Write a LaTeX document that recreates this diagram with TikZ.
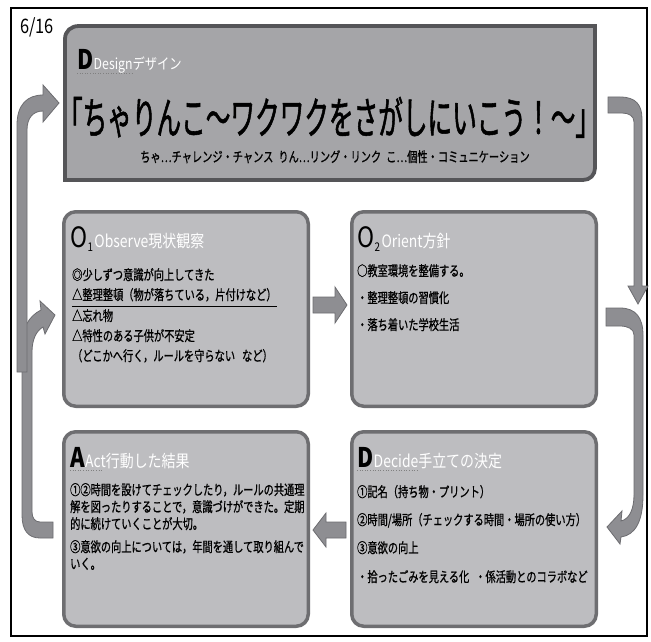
\documentclass[tikz,border=0pt]{standalone}
\usepackage{fontspec}
\setmainfont{Noto Sans CJK JP}
\newfontfamily\jp[FakeStretch=0.73,FakeBold=0.8]{Noto Sans CJK JP}
\newfontfamily\jph[FakeStretch=0.82]{Noto Sans CJK JP}
\newfontfamily\jpt[FakeStretch=0.56,FakeBold=1.2]{Noto Sans CJK JP}
\definecolor{boxfill}{HTML}{BDBDC0}
\definecolor{boxline}{HTML}{6E6E71}
\definecolor{dfill}{HTML}{A5A5A8}
\definecolor{dline}{HTML}{555558}
\definecolor{arrowfill}{HTML}{8E8E92}
\definecolor{arrowline}{HTML}{6C6C70}
\tikzset{
  pbox/.style={draw=boxline, line width=3.5pt, fill=boxfill, rounded corners=12pt,
    minimum width=244.5pt, minimum height=194.5pt, inner sep=0pt},
  body/.style={anchor=base west, inner sep=0pt, text=black,
    font=\jp\fontsize{14}{14}\selectfont},
  head/.style={anchor=base west, inner sep=0pt, text=white,
    font=\jph\fontsize{17}{17}\selectfont},
  big/.style={anchor=base west, inner sep=0pt, text=black,
    font=\jph\bfseries\fontsize{27}{27}\selectfont},
  bigo/.style={anchor=base west, inner sep=0pt, text=black,
    font=\jph\fontsize{28}{28}\selectfont},
  blockarrow/.style={fill=arrowfill, draw=arrowline, line width=0.8pt},
  squiggle/.style={draw=gray, line width=0.6pt, dotted}
}
\begin{document}
\begin{tikzpicture}[x=1pt,y=-1pt]
\useasboundingbox (0,0) rectangle (651,642);
\fill[white] (0,0) rectangle (651,642);
% outer frame
\draw[black, line width=1.5pt] (11,8) rectangle (647,636);
\node[anchor=base west, inner sep=0pt, font=\jph\fontsize{20}{20}\selectfont] (page) at (20,34) {6/16};

% design box
\draw[draw=dline, fill=dfill, line width=3.8pt]
  (65,180) -- (65,39) .. controls (65,31) and (71,26) .. (79,26) -- (595,26)
  -- (595,168) .. controls (595,175) and (590,180) .. (583,180) -- cycle;
\node[big] (dD) at (77,70) {D};
\node[head, anchor=base west, font=\jph\fontsize{15}{15}\selectfont] (dDesign) at (dD.base east) {Designデザイン};
\draw[squiggle] ([yshift=-3pt]dD.base west) -- ([yshift=-3pt,xshift=-50pt]dDesign.base east);
\node[anchor=base, inner sep=0pt, text=black, font=\jpt\fontsize{44}{44}\selectfont] (title) at (329,134)
  {「ちゃりんこ～ワクワクをさがしにいこう！～」};
\node[anchor=base, inner sep=0pt, text=black, font=\jp\fontsize{14}{14}\selectfont] (sub) at (335,162)
  {ちゃ…チャレンジ・チャンス\hspace{5pt}りん…リング・リンク\hspace{5pt}こ…個性・コミュニケーション};

% four boxes
\node[pbox] (o1) at (186,309) {};
\node[pbox] (o2) at (474,309) {};
\node[pbox] (a)  at (186,529) {};
\node[pbox] (d)  at (474,529) {};

% O1 content
\node[bigo] (o1O) at (70,247) {O};
\node[anchor=base west, inner sep=0pt, text=black, font=\jph\fontsize{12}{12}\selectfont] (o1n) at ([yshift=-4pt]o1O.base east) {1};
\node[head] (o1h) at ([xshift=1pt]o1O.base east -| o1n.east) {Observe現状観察};
\node[body] (o1l1) at (72,280) {◎少しずつ意識が向上してきた};
\node[body] (o1l2) at (72,300) {△整理整頓（物が落ちている，片付けなど）};
\draw[black, line width=0.8pt] ([yshift=-6pt]o1l2.base west) -- ([yshift=-6pt]o1l2.base east);
\node[body] (o1l3) at (72,321) {△忘れ物};
\node[body] (o1l4) at (72,341) {△特性のある子供が不安定};
\node[body] (o1l5) at (72,361) {（どこかへ行く，ルールを守らない\hspace{7pt}など）};

% O2 content
\node[bigo] (o2O) at (357,247) {O};
\node[anchor=base west, inner sep=0pt, text=black, font=\jph\fontsize{12}{12}\selectfont] (o2n) at ([yshift=-4pt]o2O.base east) {2};
\node[head] (o2h) at ([xshift=1pt]o2O.base east -| o2n.east) {Orient方針};
\node[body] (o2l1) at (357,276) {○教室環境を整備する。};
\node[body] (o2l2) at (357,303) {・整理整頓の習慣化};
\node[body] (o2l3) at (357,330) {・落ち着いた学校生活};

% A content
\node[big] (aA) at (70,467) {A};
\node[head] (ah) at (aA.base east) {Act行動した結果};
\draw[squiggle] ([yshift=-3pt]aA.base west) -- ([yshift=-3pt,xshift=-88pt]ah.base east);
\node[body] (al1) at (70,495) {①②時間を設けてチェックしたり，ルールの共通理};
\node[body] (al2) at (70,512) {解を図ったりすることで，意識づけができた。定期};
\node[body] (al3) at (70,529) {的に続けていくことが大切。};
\node[body] (al4) at (70,552) {③意欲の向上については，年間を通して取り組んで};
\node[body] (al5) at (70,569) {いく。};

% D content
\node[big] (dd) at (357,467) {D};
\node[head] (dh) at (dd.base east) {Decide手立ての決定};
\draw[squiggle] ([yshift=-3pt]dd.base west) -- ([yshift=-3pt,xshift=-84pt]dh.base east);
\node[body] (dl1) at (357,497) {①記名（持ち物・プリント）};
\node[body] (dl2) at (357,525) {②時間/場所（チェックする時間・場所の使い方）};
\node[body] (dl3) at (357,553) {③意欲の向上};
\node[body] (dl4) at (357,582) {・拾ったごみを見える化\hspace{6pt}・係活動とのコラボなど};

% arrows
% design -> O2 (right, down)
\filldraw[blockarrow] (608,97) -- (620,97) .. controls (636,97) and (642,105) .. (642,119)
  -- (642,286) -- (648,286) -- (638,304) -- (628,286) -- (634,286) -- (634,122)
  .. controls (634,116) and (629,113) .. (622,113) -- (608,113) -- cycle;
% O2 -> D (right, curved)
\filldraw[blockarrow] (606,308) -- (620,308) .. controls (636,308) and (643,318) .. (643,335)
  -- (643,495) .. controls (643,520) and (636,535) .. (621,537) -- (620,544) -- (607,527)
  -- (622,511) -- (621,521) .. controls (630,519) and (634,508) .. (634,495)
  -- (634,335) .. controls (634,329) and (628,326) .. (620,326) -- (606,326) -- cycle;
% O1 -> O2
\filldraw[blockarrow] (313,297) -- (335,297) -- (335,287) -- (347,305) -- (335,323) -- (335,313) -- (313,313) -- cycle;
% D -> A
\filldraw[blockarrow] (346,522) -- (326,522) -- (326,513) -- (313,530) -- (326,547) -- (326,538) -- (346,538) -- cycle;
% A -> O1 (left)
\filldraw[blockarrow] (53,522) -- (40,522) .. controls (35,522) and (32,518) .. (32,512)
  -- (32,352) .. controls (32,340) and (36,331) .. (43,327) -- (45,334) -- (55,315)
  -- (40,301) -- (41,310) .. controls (29,316) and (22,328) .. (22,345)
  -- (22,515) .. controls (22,530) and (28,538) .. (40,538) -- (53,538) -- cycle;
% -> design (left, long)
\filldraw[blockarrow] (17,372) -- (17,125) .. controls (17,105) and (27,95) .. (43,95)
  -- (43,85) -- (59,103) -- (43,122) -- (43,111) .. controls (33,111) and (27,118) .. (27,130)
  -- (27,372) -- cycle;
\end{tikzpicture}
\end{document}
